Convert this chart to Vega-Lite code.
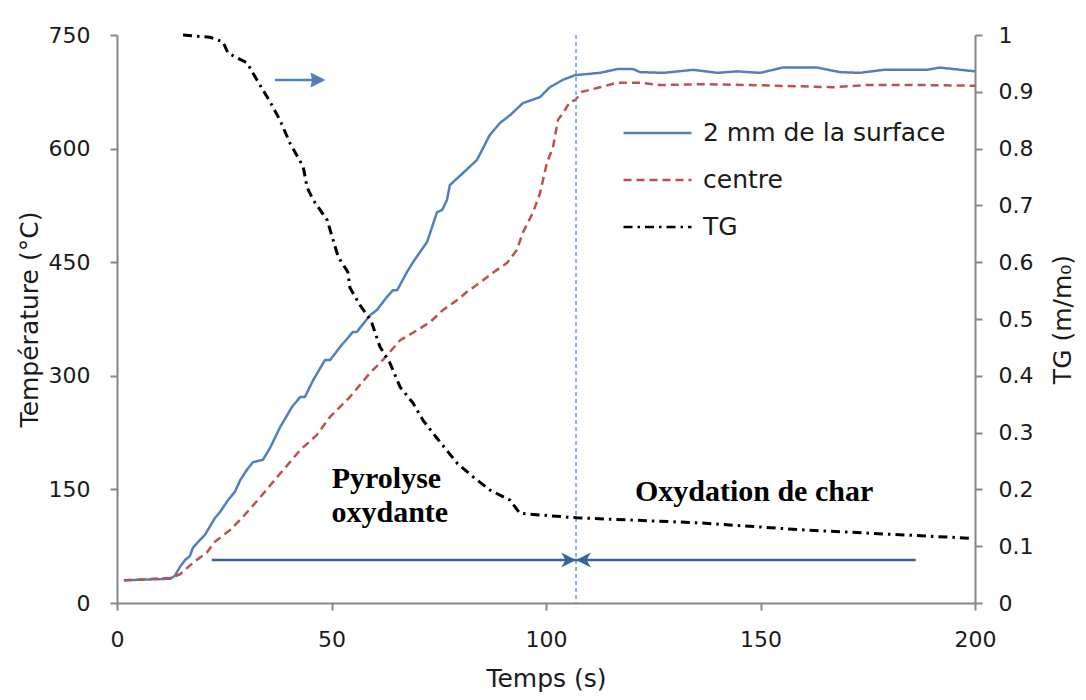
{
  "$schema": "https://vega.github.io/schema/vega-lite/v6.json",
  "width": 858,
  "height": 568,
  "autosize": {"type": "none"},
  "padding": {"left": 117, "top": 35, "right": 111, "bottom": 97},
  "background": "white",
  "config": {
    "view": {"stroke": null},
    "font": "DejaVu Sans",
    "axis": {
      "domainColor": "#868686", "domainWidth": 2, "tickColor": "#868686", "tickWidth": 2, "tickSize": 7,
      "grid": false, "labelFont": "DejaVu Sans", "labelFontSize": 22, "labelColor": "#1a1a1a", "labelFlush": false,
      "titleFont": "DejaVu Sans", "titleFontSize": 25, "titleFontWeight": "normal", "titleColor": "#1a1a1a"
    }
  },
  "datasets": {
    "temp": [
      {"t": 1.6, "v": 30, "s": "2 mm de la surface"},
      {"t": 12.4, "v": 32, "s": "2 mm de la surface"},
      {"t": 13.5, "v": 36, "s": "2 mm de la surface"},
      {"t": 14.7, "v": 48, "s": "2 mm de la surface"},
      {"t": 15.9, "v": 57, "s": "2 mm de la surface"},
      {"t": 17.0, "v": 62, "s": "2 mm de la surface"},
      {"t": 17.7, "v": 73, "s": "2 mm de la surface"},
      {"t": 19.3, "v": 83, "s": "2 mm de la surface"},
      {"t": 20.5, "v": 90, "s": "2 mm de la surface"},
      {"t": 22.8, "v": 112, "s": "2 mm de la surface"},
      {"t": 24.0, "v": 120, "s": "2 mm de la surface"},
      {"t": 25.9, "v": 136, "s": "2 mm de la surface"},
      {"t": 27.5, "v": 147, "s": "2 mm de la surface"},
      {"t": 28.7, "v": 162, "s": "2 mm de la surface"},
      {"t": 30.3, "v": 176, "s": "2 mm de la surface"},
      {"t": 31.7, "v": 186, "s": "2 mm de la surface"},
      {"t": 34.0, "v": 189, "s": "2 mm de la surface"},
      {"t": 35.7, "v": 205, "s": "2 mm de la surface"},
      {"t": 38.0, "v": 232, "s": "2 mm de la surface"},
      {"t": 40.8, "v": 259, "s": "2 mm de la surface"},
      {"t": 42.7, "v": 272, "s": "2 mm de la surface"},
      {"t": 43.8, "v": 272, "s": "2 mm de la surface"},
      {"t": 45.7, "v": 294, "s": "2 mm de la surface"},
      {"t": 48.5, "v": 321, "s": "2 mm de la surface"},
      {"t": 49.7, "v": 321, "s": "2 mm de la surface"},
      {"t": 52.0, "v": 338, "s": "2 mm de la surface"},
      {"t": 55.0, "v": 358, "s": "2 mm de la surface"},
      {"t": 55.9, "v": 358, "s": "2 mm de la surface"},
      {"t": 59.0, "v": 380, "s": "2 mm de la surface"},
      {"t": 60.6, "v": 387, "s": "2 mm de la surface"},
      {"t": 62.9, "v": 404, "s": "2 mm de la surface"},
      {"t": 64.3, "v": 413, "s": "2 mm de la surface"},
      {"t": 65.3, "v": 413, "s": "2 mm de la surface"},
      {"t": 67.6, "v": 437, "s": "2 mm de la surface"},
      {"t": 69.0, "v": 450, "s": "2 mm de la surface"},
      {"t": 72.3, "v": 477, "s": "2 mm de la surface"},
      {"t": 74.6, "v": 516, "s": "2 mm de la surface"},
      {"t": 75.8, "v": 519, "s": "2 mm de la surface"},
      {"t": 76.9, "v": 532, "s": "2 mm de la surface"},
      {"t": 77.6, "v": 552, "s": "2 mm de la surface"},
      {"t": 80.7, "v": 568, "s": "2 mm de la surface"},
      {"t": 83.9, "v": 585, "s": "2 mm de la surface"},
      {"t": 86.9, "v": 618, "s": "2 mm de la surface"},
      {"t": 89.3, "v": 634, "s": "2 mm de la surface"},
      {"t": 91.6, "v": 644, "s": "2 mm de la surface"},
      {"t": 94.6, "v": 660, "s": "2 mm de la surface"},
      {"t": 98.6, "v": 668, "s": "2 mm de la surface"},
      {"t": 100.9, "v": 681, "s": "2 mm de la surface"},
      {"t": 104.0, "v": 691, "s": "2 mm de la surface"},
      {"t": 106.8, "v": 697, "s": "2 mm de la surface"},
      {"t": 112.6, "v": 700, "s": "2 mm de la surface"},
      {"t": 116.6, "v": 705, "s": "2 mm de la surface"},
      {"t": 120.3, "v": 705, "s": "2 mm de la surface"},
      {"t": 121.9, "v": 701, "s": "2 mm de la surface"},
      {"t": 127.3, "v": 700, "s": "2 mm de la surface"},
      {"t": 134.3, "v": 704, "s": "2 mm de la surface"},
      {"t": 139.9, "v": 700, "s": "2 mm de la surface"},
      {"t": 144.5, "v": 702, "s": "2 mm de la surface"},
      {"t": 149.9, "v": 700, "s": "2 mm de la surface"},
      {"t": 155.2, "v": 707, "s": "2 mm de la surface"},
      {"t": 163.2, "v": 707, "s": "2 mm de la surface"},
      {"t": 168.5, "v": 701, "s": "2 mm de la surface"},
      {"t": 173.2, "v": 700, "s": "2 mm de la surface"},
      {"t": 178.6, "v": 704, "s": "2 mm de la surface"},
      {"t": 188.8, "v": 704, "s": "2 mm de la surface"},
      {"t": 191.8, "v": 707, "s": "2 mm de la surface"},
      {"t": 200, "v": 702, "s": "2 mm de la surface"},
      {"t": 1.6, "v": 30, "s": "centre"},
      {"t": 12.4, "v": 33, "s": "centre"},
      {"t": 14.7, "v": 38, "s": "centre"},
      {"t": 17.7, "v": 53, "s": "centre"},
      {"t": 21.0, "v": 67, "s": "centre"},
      {"t": 22.8, "v": 81, "s": "centre"},
      {"t": 26.3, "v": 96, "s": "centre"},
      {"t": 29.4, "v": 114, "s": "centre"},
      {"t": 33.3, "v": 139, "s": "centre"},
      {"t": 36.4, "v": 160, "s": "centre"},
      {"t": 42.7, "v": 202, "s": "centre"},
      {"t": 46.6, "v": 222, "s": "centre"},
      {"t": 49.7, "v": 246, "s": "centre"},
      {"t": 54.3, "v": 272, "s": "centre"},
      {"t": 59.0, "v": 304, "s": "centre"},
      {"t": 62.0, "v": 321, "s": "centre"},
      {"t": 66.0, "v": 347, "s": "centre"},
      {"t": 69.9, "v": 360, "s": "centre"},
      {"t": 73.0, "v": 371, "s": "centre"},
      {"t": 76.0, "v": 387, "s": "centre"},
      {"t": 79.3, "v": 400, "s": "centre"},
      {"t": 81.6, "v": 411, "s": "centre"},
      {"t": 84.6, "v": 423, "s": "centre"},
      {"t": 87.6, "v": 436, "s": "centre"},
      {"t": 90.9, "v": 449, "s": "centre"},
      {"t": 93.2, "v": 466, "s": "centre"},
      {"t": 94.6, "v": 489, "s": "centre"},
      {"t": 97.0, "v": 516, "s": "centre"},
      {"t": 98.6, "v": 541, "s": "centre"},
      {"t": 100.2, "v": 581, "s": "centre"},
      {"t": 101.6, "v": 601, "s": "centre"},
      {"t": 102.8, "v": 638, "s": "centre"},
      {"t": 104.0, "v": 647, "s": "centre"},
      {"t": 105.6, "v": 662, "s": "centre"},
      {"t": 106.8, "v": 664, "s": "centre"},
      {"t": 108.4, "v": 675, "s": "centre"},
      {"t": 112.6, "v": 681, "s": "centre"},
      {"t": 116.6, "v": 687, "s": "centre"},
      {"t": 121.9, "v": 687, "s": "centre"},
      {"t": 126.6, "v": 684, "s": "centre"},
      {"t": 135.9, "v": 685, "s": "centre"},
      {"t": 147.6, "v": 684, "s": "centre"},
      {"t": 166.9, "v": 681, "s": "centre"},
      {"t": 174.8, "v": 684, "s": "centre"},
      {"t": 186.5, "v": 684, "s": "centre"},
      {"t": 200, "v": 683, "s": "centre"}
    ],
    "tg": [
      {"t": 15.4, "m": 1.0, "s": "TG"},
      {"t": 21.7, "m": 0.996, "s": "TG"},
      {"t": 24.7, "m": 0.988, "s": "TG"},
      {"t": 25.9, "m": 0.968, "s": "TG"},
      {"t": 30.3, "m": 0.951, "s": "TG"},
      {"t": 32.6, "m": 0.921, "s": "TG"},
      {"t": 35.7, "m": 0.882, "s": "TG"},
      {"t": 38.0, "m": 0.85, "s": "TG"},
      {"t": 40.3, "m": 0.81, "s": "TG"},
      {"t": 43.4, "m": 0.768, "s": "TG"},
      {"t": 44.3, "m": 0.732, "s": "TG"},
      {"t": 45.7, "m": 0.71, "s": "TG"},
      {"t": 49.0, "m": 0.674, "s": "TG"},
      {"t": 51.3, "m": 0.616, "s": "TG"},
      {"t": 52.0, "m": 0.604, "s": "TG"},
      {"t": 53.8, "m": 0.583, "s": "TG"},
      {"t": 54.3, "m": 0.555, "s": "TG"},
      {"t": 56.6, "m": 0.525, "s": "TG"},
      {"t": 58.3, "m": 0.507, "s": "TG"},
      {"t": 59.4, "m": 0.493, "s": "TG"},
      {"t": 61.3, "m": 0.451, "s": "TG"},
      {"t": 63.6, "m": 0.423, "s": "TG"},
      {"t": 66.0, "m": 0.38, "s": "TG"},
      {"t": 69.0, "m": 0.352, "s": "TG"},
      {"t": 71.3, "m": 0.322, "s": "TG"},
      {"t": 74.6, "m": 0.29, "s": "TG"},
      {"t": 79.3, "m": 0.246, "s": "TG"},
      {"t": 83.0, "m": 0.222, "s": "TG"},
      {"t": 86.9, "m": 0.199, "s": "TG"},
      {"t": 91.6, "m": 0.181, "s": "TG"},
      {"t": 93.9, "m": 0.158, "s": "TG"},
      {"t": 98.6, "m": 0.155, "s": "TG"},
      {"t": 107.2, "m": 0.15, "s": "TG"},
      {"t": 135.9, "m": 0.141, "s": "TG"},
      {"t": 159.2, "m": 0.129, "s": "TG"},
      {"t": 198.8, "m": 0.114, "s": "TG"}
    ]
  },
  "layer": [
    {
      "layer": [
        {
          "data": {"name": "temp"},
          "mark": {"type": "line", "strokeWidth": 2.5, "interpolate": "linear", "strokeJoin": "round"},
          "encoding": {
            "x": {"field": "t", "type": "quantitative", "title": "Temps (s)", "scale": {"domain": [0, 200], "nice": false},
                  "axis": {"values": [0, 50, 100, 150, 200], "labelPadding": 19, "titlePadding": 16}},
            "y": {"field": "v", "type": "quantitative", "title": "Température (°C)", "scale": {"domain": [0, 750], "nice": false},
                  "axis": {"orient": "left", "values": [0, 150, 300, 450, 600, 750], "labelPadding": 20, "titlePadding": 6}},
            "color": {"field": "s", "type": "nominal",
                      "scale": {"domain": ["2 mm de la surface", "centre", "TG"], "range": ["#4f81bd", "#c0504d", "#000000"]},
                      "legend": {"title": null, "orient": "none", "legendX": 505, "legendY": 83, "symbolType": "stroke",
                                 "symbolSize": 4624, "symbolStrokeWidth": 2.5, "clipHeight": 30, "rowPadding": 17, "labelLimit": 0,
                                 "labelFontSize": 25, "labelFont": "DejaVu Sans", "labelColor": "#1a1a1a", "labelOffset": 10, "padding": 0}},
            "strokeDash": {"field": "s", "type": "nominal",
                           "scale": {"domain": ["2 mm de la surface", "centre", "TG"], "range": [[1, 0], [8, 5], [9, 5, 2.5, 5]]},
                           "legend": {"title": null, "orient": "none", "legendX": 505, "legendY": 83, "symbolType": "stroke",
                                 "symbolSize": 4624, "symbolStrokeWidth": 2.5, "clipHeight": 30, "rowPadding": 17, "labelLimit": 0,
                                 "labelFontSize": 25, "labelFont": "DejaVu Sans", "labelColor": "#1a1a1a", "labelOffset": 10, "padding": 0}}
          }
        },
        {
          "data": {"values": [{"t": 107}]},
          "mark": {"type": "rule", "color": "#6d9bd4", "strokeWidth": 1.5, "strokeDash": [4, 3]},
          "encoding": {
            "x": {"field": "t", "type": "quantitative", "title": "Temps (s)", "scale": {"domain": [0, 200], "nice": false}}
          }
        },
        {
          "data": {"values": [{"t": 22.1, "t2": 186.2, "v": 56.8}]},
          "mark": {"type": "rule", "color": "#3a6499", "strokeWidth": 2.5},
          "encoding": {
            "x": {"field": "t", "type": "quantitative", "title": "Temps (s)", "scale": {"domain": [0, 200], "nice": false}},
            "x2": {"field": "t2"},
            "y": {"field": "v", "type": "quantitative", "title": "Température (°C)", "scale": {"domain": [0, 750], "nice": false}}
          }
        },
        {
          "data": {"values": [{"t": 107, "v": 56.8}]},
          "mark": {"type": "point", "filled": true, "color": "#3a6499", "opacity": 1, "size": 225, "strokeWidth": 0,
                   "shape": "M0,0 L-2,-1 L-1.4,0 L-2,1 Z"},
          "encoding": {
            "x": {"field": "t", "type": "quantitative", "title": "Temps (s)", "scale": {"domain": [0, 200], "nice": false}},
            "y": {"field": "v", "type": "quantitative", "title": "Température (°C)", "scale": {"domain": [0, 750], "nice": false}}
          }
        },
        {
          "data": {"values": [{"t": 107, "v": 56.8}]},
          "mark": {"type": "point", "filled": true, "color": "#3a6499", "opacity": 1, "size": 225, "strokeWidth": 0,
                   "shape": "M0,0 L2,-1 L1.4,0 L2,1 Z"},
          "encoding": {
            "x": {"field": "t", "type": "quantitative", "title": "Temps (s)", "scale": {"domain": [0, 200], "nice": false}},
            "y": {"field": "v", "type": "quantitative", "title": "Température (°C)", "scale": {"domain": [0, 750], "nice": false}}
          }
        },
        {
          "data": {"values": [{"t": 36.8, "t2": 46, "v": 690.6}]},
          "mark": {"type": "rule", "color": "#4f81bd", "strokeWidth": 2.5},
          "encoding": {
            "x": {"field": "t", "type": "quantitative", "title": "Temps (s)", "scale": {"domain": [0, 200], "nice": false}},
            "x2": {"field": "t2"},
            "y": {"field": "v", "type": "quantitative", "title": "Température (°C)", "scale": {"domain": [0, 750], "nice": false}}
          }
        },
        {
          "data": {"values": [{"t": 48.6, "v": 690.6}]},
          "mark": {"type": "point", "filled": true, "color": "#4f81bd", "opacity": 1, "size": 225, "strokeWidth": 0,
                   "shape": "M0,0 L-2,-1 L-1.8,0 L-2,1 Z"},
          "encoding": {
            "x": {"field": "t", "type": "quantitative", "title": "Temps (s)", "scale": {"domain": [0, 200], "nice": false}},
            "y": {"field": "v", "type": "quantitative", "title": "Température (°C)", "scale": {"domain": [0, 750], "nice": false}}
          }
        },
        {
          "data": {"values": [
            {"t": 62.8, "v": 151.9, "label": "Pyrolyse"},
            {"t": 63.6, "v": 107, "label": "oxydante"},
            {"t": 148.5, "v": 134.7, "label": "Oxydation de char"}
          ]},
          "mark": {"type": "text", "font": "Liberation Serif", "fontWeight": "bold", "fontSize": 30, "align": "center", "baseline": "alphabetic", "color": "#000000"},
          "encoding": {
            "x": {"field": "t", "type": "quantitative", "title": "Temps (s)", "scale": {"domain": [0, 200], "nice": false}},
            "y": {"field": "v", "type": "quantitative", "title": "Température (°C)", "scale": {"domain": [0, 750], "nice": false}},
            "text": {"field": "label"}
          }
        }
      ]
    },
    {
      "data": {"name": "tg"},
      "mark": {"type": "line", "strokeWidth": 3, "interpolate": "linear", "strokeJoin": "round"},
      "encoding": {
        "x": {"field": "t", "type": "quantitative", "title": "Temps (s)", "scale": {"domain": [0, 200], "nice": false}},
        "y": {"field": "m", "type": "quantitative", "title": "TG (m/m₀)", "scale": {"domain": [0, 1], "nice": false},
              "axis": {"orient": "right", "values": [0, 0.1, 0.2, 0.3, 0.4, 0.5, 0.6, 0.7, 0.8, 0.9, 1], "format": "~g",
                       "labelPadding": 16, "titlePadding": 18, "titleAngle": -90, "titleBaseline": "top"}},
        "color": {"field": "s", "type": "nominal"},
        "strokeDash": {"field": "s", "type": "nominal"}
      }
    }
  ],
  "resolve": {"scale": {"y": "independent"}}
}
